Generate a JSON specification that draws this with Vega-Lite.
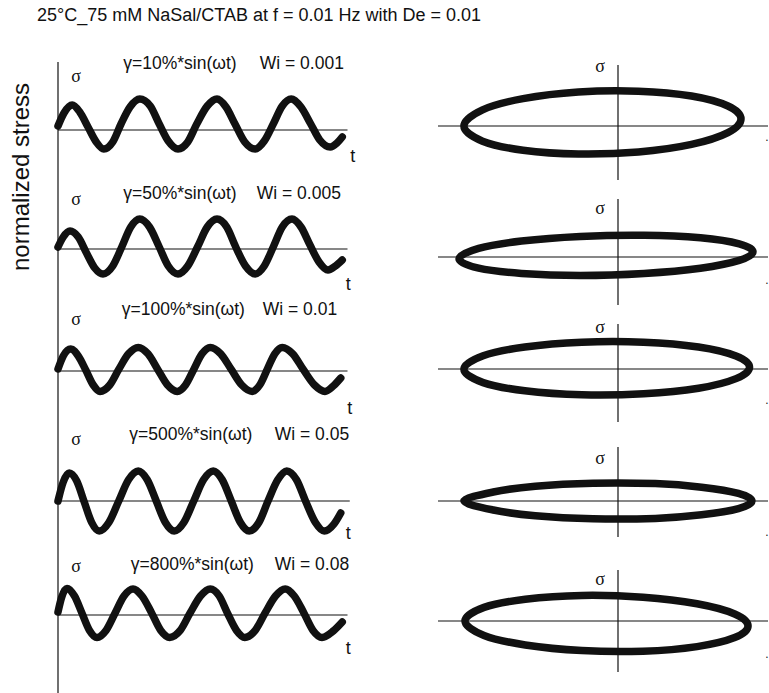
{
  "$schema": "https://vega.github.io/schema/vega-lite/v6.json",
  "padding": {"left": 9, "top": 7, "right": 0, "bottom": 0},
  "background": "white",
  "config": {"view": {"stroke": null}, "font": "Liberation Sans"},
  "title": {"text": "25°C_75 mM NaSal/CTAB at f = 0.01 Hz with De = 0.01", "anchor": "start", "frame": "group", "dx": -21, "offset": 30, "fontSize": 18, "fontWeight": "normal", "font": "Liberation Sans", "color": "#111"},
  "datasets": {
    "waves": [
      {"row": 1, "t": 0, "s": 0.2}, {"row": 1, "t": 8, "s": 0.85}, {"row": 1, "t": 19, "s": 1.25}, {"row": 1, "t": 29, "s": 0.9}, {"row": 1, "t": 40, "s": 0.15}, {"row": 1, "t": 51, "s": -0.6}, {"row": 1, "t": 61, "s": -0.95}, {"row": 1, "t": 73, "s": -0.6}, {"row": 1, "t": 84, "s": 0.3}, {"row": 1, "t": 96, "s": 1.15}, {"row": 1, "t": 109, "s": 1.55}, {"row": 1, "t": 123, "s": 1.2}, {"row": 1, "t": 135, "s": 0.3}, {"row": 1, "t": 147, "s": -0.55}, {"row": 1, "t": 160, "s": -0.95}, {"row": 1, "t": 173, "s": -0.6}, {"row": 1, "t": 185, "s": 0.3}, {"row": 1, "t": 199, "s": 1.2}, {"row": 1, "t": 212, "s": 1.55}, {"row": 1, "t": 224, "s": 1.15}, {"row": 1, "t": 236, "s": 0.3}, {"row": 1, "t": 249, "s": -0.6}, {"row": 1, "t": 263, "s": -0.95}, {"row": 1, "t": 275, "s": -0.55}, {"row": 1, "t": 287, "s": 0.3}, {"row": 1, "t": 299, "s": 1.2}, {"row": 1, "t": 311, "s": 1.55}, {"row": 1, "t": 324, "s": 1.15}, {"row": 1, "t": 337, "s": 0.3}, {"row": 1, "t": 349, "s": -0.5}, {"row": 1, "t": 363, "s": -0.85}, {"row": 1, "t": 372, "s": -0.65}, {"row": 1, "t": 379, "s": -0.35},
      {"row": 2, "t": 0, "s": 0.1}, {"row": 2, "t": 7, "s": 0.6}, {"row": 2, "t": 16, "s": 0.9}, {"row": 2, "t": 27, "s": 0.6}, {"row": 2, "t": 38, "s": -0.2}, {"row": 2, "t": 49, "s": -0.95}, {"row": 2, "t": 60, "s": -1.25}, {"row": 2, "t": 73, "s": -0.85}, {"row": 2, "t": 85, "s": 0.1}, {"row": 2, "t": 97, "s": 1.1}, {"row": 2, "t": 109, "s": 1.5}, {"row": 2, "t": 122, "s": 1.1}, {"row": 2, "t": 135, "s": 0.1}, {"row": 2, "t": 147, "s": -0.85}, {"row": 2, "t": 160, "s": -1.25}, {"row": 2, "t": 173, "s": -0.85}, {"row": 2, "t": 186, "s": 0.1}, {"row": 2, "t": 199, "s": 1.1}, {"row": 2, "t": 212, "s": 1.5}, {"row": 2, "t": 225, "s": 1.1}, {"row": 2, "t": 237, "s": 0.1}, {"row": 2, "t": 250, "s": -0.85}, {"row": 2, "t": 263, "s": -1.25}, {"row": 2, "t": 275, "s": -0.85}, {"row": 2, "t": 287, "s": 0.1}, {"row": 2, "t": 299, "s": 1.1}, {"row": 2, "t": 312, "s": 1.5}, {"row": 2, "t": 324, "s": 1.1}, {"row": 2, "t": 336, "s": 0.2}, {"row": 2, "t": 348, "s": -0.65}, {"row": 2, "t": 360, "s": -1.05}, {"row": 2, "t": 370, "s": -0.85}, {"row": 2, "t": 379, "s": -0.55},
      {"row": 3, "t": 0, "s": 0.1}, {"row": 3, "t": 7, "s": 0.75}, {"row": 3, "t": 17, "s": 1.1}, {"row": 3, "t": 27, "s": 0.75}, {"row": 3, "t": 37, "s": 0.05}, {"row": 3, "t": 47, "s": -0.7}, {"row": 3, "t": 56, "s": -1.02}, {"row": 3, "t": 69, "s": -0.7}, {"row": 3, "t": 81, "s": 0.08}, {"row": 3, "t": 94, "s": 0.86}, {"row": 3, "t": 107, "s": 1.18}, {"row": 3, "t": 120, "s": 0.86}, {"row": 3, "t": 133, "s": 0.08}, {"row": 3, "t": 146, "s": -0.7}, {"row": 3, "t": 159, "s": -1.02}, {"row": 3, "t": 170, "s": -0.7}, {"row": 3, "t": 181, "s": 0.08}, {"row": 3, "t": 192, "s": 0.86}, {"row": 3, "t": 203, "s": 1.18}, {"row": 3, "t": 217, "s": 0.86}, {"row": 3, "t": 231, "s": 0.08}, {"row": 3, "t": 245, "s": -0.7}, {"row": 3, "t": 259, "s": -1.02}, {"row": 3, "t": 269, "s": -0.7}, {"row": 3, "t": 279, "s": 0.08}, {"row": 3, "t": 289, "s": 0.86}, {"row": 3, "t": 299, "s": 1.18}, {"row": 3, "t": 313, "s": 0.86}, {"row": 3, "t": 327, "s": 0.08}, {"row": 3, "t": 342, "s": -0.7}, {"row": 3, "t": 356, "s": -1.02}, {"row": 3, "t": 367, "s": -0.75}, {"row": 3, "t": 377, "s": -0.35},
      {"row": 4, "t": 0, "s": 0}, {"row": 4, "t": 7, "s": 0.95}, {"row": 4, "t": 15, "s": 1.4}, {"row": 4, "t": 25, "s": 1.0}, {"row": 4, "t": 35, "s": -0.05}, {"row": 4, "t": 45, "s": -1.08}, {"row": 4, "t": 55, "s": -1.5}, {"row": 4, "t": 68, "s": -1.06}, {"row": 4, "t": 81, "s": 0}, {"row": 4, "t": 94, "s": 1.06}, {"row": 4, "t": 107, "s": 1.5}, {"row": 4, "t": 119, "s": 1.06}, {"row": 4, "t": 131, "s": 0}, {"row": 4, "t": 143, "s": -1.06}, {"row": 4, "t": 155, "s": -1.5}, {"row": 4, "t": 168, "s": -1.06}, {"row": 4, "t": 181, "s": 0}, {"row": 4, "t": 194, "s": 1.06}, {"row": 4, "t": 207, "s": 1.5}, {"row": 4, "t": 219, "s": 1.06}, {"row": 4, "t": 231, "s": 0}, {"row": 4, "t": 243, "s": -1.06}, {"row": 4, "t": 255, "s": -1.5}, {"row": 4, "t": 268, "s": -1.06}, {"row": 4, "t": 280, "s": 0}, {"row": 4, "t": 293, "s": 1.06}, {"row": 4, "t": 305, "s": 1.5}, {"row": 4, "t": 318, "s": 1.06}, {"row": 4, "t": 330, "s": 0}, {"row": 4, "t": 343, "s": -1.06}, {"row": 4, "t": 355, "s": -1.5}, {"row": 4, "t": 368, "s": -1.15}, {"row": 4, "t": 377, "s": -0.6},
      {"row": 5, "t": 0, "s": 0.15}, {"row": 5, "t": 5, "s": 0.9}, {"row": 5, "t": 12, "s": 1.33}, {"row": 5, "t": 22, "s": 0.95}, {"row": 5, "t": 32, "s": 0.09}, {"row": 5, "t": 42, "s": -0.77}, {"row": 5, "t": 52, "s": -1.12}, {"row": 5, "t": 64, "s": -0.77}, {"row": 5, "t": 76, "s": 0.09}, {"row": 5, "t": 88, "s": 0.95}, {"row": 5, "t": 100, "s": 1.3}, {"row": 5, "t": 112, "s": 0.95}, {"row": 5, "t": 125, "s": 0.09}, {"row": 5, "t": 137, "s": -0.77}, {"row": 5, "t": 149, "s": -1.12}, {"row": 5, "t": 163, "s": -0.77}, {"row": 5, "t": 176, "s": 0.09}, {"row": 5, "t": 190, "s": 0.95}, {"row": 5, "t": 203, "s": 1.3}, {"row": 5, "t": 215, "s": 0.95}, {"row": 5, "t": 226, "s": 0.09}, {"row": 5, "t": 238, "s": -0.77}, {"row": 5, "t": 249, "s": -1.12}, {"row": 5, "t": 263, "s": -0.77}, {"row": 5, "t": 276, "s": 0.09}, {"row": 5, "t": 290, "s": 0.95}, {"row": 5, "t": 303, "s": 1.3}, {"row": 5, "t": 315, "s": 0.95}, {"row": 5, "t": 328, "s": 0.09}, {"row": 5, "t": 340, "s": -0.77}, {"row": 5, "t": 352, "s": -1.12}, {"row": 5, "t": 367, "s": -0.8}, {"row": 5, "t": 379, "s": -0.35}
    ],
    "loops": [
      {"row": 1, "k": 1, "g": 0.82, "s": 0.35}, {"row": 1, "k": 2, "g": 0.733, "s": 1.0}, {"row": 1, "k": 3, "g": 0.49, "s": 1.5}, {"row": 1, "k": 4, "g": 0.136, "s": 1.74}, {"row": 1, "k": 5, "g": -0.264, "s": 1.7}, {"row": 1, "k": 6, "g": -0.633, "s": 1.37}, {"row": 1, "k": 7, "g": -0.903, "s": 0.81}, {"row": 1, "k": 8, "g": -1.027, "s": 0}, {"row": 1, "k": 9, "g": -0.903, "s": -0.76}, {"row": 1, "k": 10, "g": -0.633, "s": -1.21}, {"row": 1, "k": 11, "g": -0.264, "s": -1.4}, {"row": 1, "k": 12, "g": 0.136, "s": -1.3}, {"row": 1, "k": 13, "g": 0.49, "s": -0.92}, {"row": 1, "k": 14, "g": 0.733, "s": -0.33},
      {"row": 2, "k": 1, "g": 0.9, "s": 0.26}, {"row": 2, "k": 2, "g": 0.808, "s": 0.66}, {"row": 2, "k": 3, "g": 0.55, "s": 0.96}, {"row": 2, "k": 4, "g": 0.174, "s": 1.09}, {"row": 2, "k": 5, "g": -0.251, "s": 1.03}, {"row": 2, "k": 6, "g": -0.643, "s": 0.8}, {"row": 2, "k": 7, "g": -0.929, "s": 0.43}, {"row": 2, "k": 8, "g": -1.06, "s": -0.09}, {"row": 2, "k": 9, "g": -0.929, "s": -0.56}, {"row": 2, "k": 10, "g": -0.643, "s": -0.82}, {"row": 2, "k": 11, "g": -0.251, "s": -0.92}, {"row": 2, "k": 12, "g": 0.174, "s": -0.82}, {"row": 2, "k": 13, "g": 0.55, "s": -0.56}, {"row": 2, "k": 14, "g": 0.808, "s": -0.17},
      {"row": 3, "k": 1, "g": 0.877, "s": 0.09}, {"row": 3, "k": 2, "g": 0.787, "s": 0.65}, {"row": 3, "k": 3, "g": 0.537, "s": 1.1}, {"row": 3, "k": 4, "g": 0.171, "s": 1.34}, {"row": 3, "k": 5, "g": -0.241, "s": 1.34}, {"row": 3, "k": 6, "g": -0.621, "s": 1.1}, {"row": 3, "k": 7, "g": -0.899, "s": 0.66}, {"row": 3, "k": 8, "g": -1.027, "s": -0.01}, {"row": 3, "k": 9, "g": -0.899, "s": -0.68}, {"row": 3, "k": 10, "g": -0.621, "s": -1.09}, {"row": 3, "k": 11, "g": -0.241, "s": -1.29}, {"row": 3, "k": 12, "g": 0.171, "s": -1.24}, {"row": 3, "k": 13, "g": 0.537, "s": -0.96}, {"row": 3, "k": 14, "g": 0.787, "s": -0.48},
      {"row": 4, "k": 1, "g": 0.893, "s": 0}, {"row": 4, "k": 2, "g": 0.803, "s": 0.38}, {"row": 4, "k": 3, "g": 0.557, "s": 0.69}, {"row": 4, "k": 4, "g": 0.249, "s": 0.87}, {"row": 4, "k": 5, "g": -0.167, "s": 0.89}, {"row": 4, "k": 6, "g": -0.551, "s": 0.74}, {"row": 4, "k": 7, "g": -0.831, "s": 0.45}, {"row": 4, "k": 8, "g": -1.027, "s": 0}, {"row": 4, "k": 9, "g": -0.831, "s": -0.45}, {"row": 4, "k": 10, "g": -0.551, "s": -0.74}, {"row": 4, "k": 11, "g": -0.167, "s": -0.89}, {"row": 4, "k": 12, "g": 0.249, "s": -0.87}, {"row": 4, "k": 13, "g": 0.557, "s": -0.69}, {"row": 4, "k": 14, "g": 0.803, "s": -0.38},
      {"row": 5, "k": 1, "g": 0.867, "s": -0.25}, {"row": 5, "k": 2, "g": 0.778, "s": 0.35}, {"row": 5, "k": 3, "g": 0.527, "s": 0.86}, {"row": 5, "k": 4, "g": 0.167, "s": 1.19}, {"row": 5, "k": 5, "g": -0.241, "s": 1.28}, {"row": 5, "k": 6, "g": -0.618, "s": 1.09}, {"row": 5, "k": 7, "g": -0.893, "s": 0.68}, {"row": 5, "k": 8, "g": -1.02, "s": 0}, {"row": 5, "k": 9, "g": -0.893, "s": -0.72}, {"row": 5, "k": 10, "g": -0.618, "s": -1.2}, {"row": 5, "k": 11, "g": -0.241, "s": -1.48}, {"row": 5, "k": 12, "g": 0.167, "s": -1.51}, {"row": 5, "k": 13, "g": 0.527, "s": -1.28}, {"row": 5, "k": 14, "g": 0.778, "s": -0.83}
    ]
  },
  "spacing": 79,
  "hconcat": [
    {
      "bounds": "flush",
      "spacing": 0,
      "vconcat": [
        {
          "width": 300, "height": 128,
          "layer": [
            {"data": {"name": "waves"}, "transform": [{"filter": "datum.row == 1"}], "mark": {"type": "line", "interpolate": "monotone", "strokeWidth": 7.5, "color": "#111", "strokeCap": "round"}, "encoding": {"x": {"field": "t", "type": "quantitative", "scale": {"domain": [0, 400], "nice": false, "zero": false}, "axis": null}, "y": {"field": "s", "type": "quantitative", "scale": {"domain": [-3.0, 3.4], "nice": false, "zero": false}, "axis": null}}},
            {"data": {"values": [{}]}, "mark": {"type": "rule", "color": "#111", "strokeWidth": 1.2}, "encoding": {"x": {"datum": 0, "type": "quantitative", "axis": null}}},
            {"data": {"values": [{}]}, "mark": {"type": "rule", "color": "#111", "strokeWidth": 1.2}, "encoding": {"x": {"datum": 0, "type": "quantitative", "axis": null}, "x2": {"datum": 386}, "y": {"datum": 0, "type": "quantitative", "axis": null}}},
            {"data": {"values": [{}]}, "mark": {"type": "text", "text": "σ", "font": "Liberation Serif", "fontSize": 18, "color": "#111"}, "encoding": {"x": {"datum": 24, "type": "quantitative", "axis": null}, "y": {"datum": 2.65, "type": "quantitative", "axis": null}}},
            {"data": {"values": [{}]}, "mark": {"type": "text", "text": "t", "fontSize": 18, "color": "#111"}, "encoding": {"x": {"datum": 393, "type": "quantitative", "axis": null}, "y": {"datum": -1.35, "type": "quantitative", "axis": null}}},
            {"data": {"values": [{}]}, "mark": {"type": "text", "text": "γ=10%*sin(ωt)", "align": "left", "fontSize": 17.5, "color": "#111"}, "encoding": {"x": {"datum": 87, "type": "quantitative", "axis": null}, "y": {"datum": 3.3, "type": "quantitative", "axis": null}}},
            {"data": {"values": [{}]}, "mark": {"type": "text", "text": "Wi = 0.001", "align": "left", "fontSize": 17.5, "color": "#111"}, "encoding": {"x": {"datum": 269, "type": "quantitative", "axis": null}, "y": {"datum": 3.3, "type": "quantitative", "axis": null}}},
            {"data": {"values": [{}]}, "mark": {"type": "text", "text": "normalized stress", "angle": 270, "fontSize": 24, "color": "#111"}, "encoding": {"x": {"datum": -48, "type": "quantitative", "axis": null}, "y": {"datum": -2.35, "type": "quantitative", "axis": null}}}
          ]
        },
        {
          "width": 300, "height": 120,
          "layer": [
            {"data": {"name": "waves"}, "transform": [{"filter": "datum.row == 2"}], "mark": {"type": "line", "interpolate": "monotone", "strokeWidth": 7.5, "color": "#111", "strokeCap": "round"}, "encoding": {"x": {"field": "t", "type": "quantitative", "scale": {"domain": [0, 400], "nice": false, "zero": false}, "axis": null}, "y": {"field": "s", "type": "quantitative", "scale": {"domain": [-3.05, 2.95], "nice": false, "zero": false}, "axis": null}}},
            {"data": {"values": [{}]}, "mark": {"type": "rule", "color": "#111", "strokeWidth": 1.2}, "encoding": {"x": {"datum": 0, "type": "quantitative", "axis": null}}},
            {"data": {"values": [{}]}, "mark": {"type": "rule", "color": "#111", "strokeWidth": 1.2}, "encoding": {"x": {"datum": 0, "type": "quantitative", "axis": null}, "x2": {"datum": 386}, "y": {"datum": 0, "type": "quantitative", "axis": null}}},
            {"data": {"values": [{}]}, "mark": {"type": "text", "text": "σ", "font": "Liberation Serif", "fontSize": 18, "color": "#111"}, "encoding": {"x": {"datum": 24, "type": "quantitative", "axis": null}, "y": {"datum": 2.45, "type": "quantitative", "axis": null}}},
            {"data": {"values": [{}]}, "mark": {"type": "text", "text": "t", "fontSize": 18, "color": "#111"}, "encoding": {"x": {"datum": 387, "type": "quantitative", "axis": null}, "y": {"datum": -1.8, "type": "quantitative", "axis": null}}},
            {"data": {"values": [{}]}, "mark": {"type": "text", "text": "γ=50%*sin(ωt)", "align": "left", "fontSize": 17.5, "color": "#111"}, "encoding": {"x": {"datum": 87, "type": "quantitative", "axis": null}, "y": {"datum": 2.75, "type": "quantitative", "axis": null}}},
            {"data": {"values": [{}]}, "mark": {"type": "text", "text": "Wi = 0.005", "align": "left", "fontSize": 17.5, "color": "#111"}, "encoding": {"x": {"datum": 265, "type": "quantitative", "axis": null}, "y": {"datum": 2.75, "type": "quantitative", "axis": null}}}
          ]
        },
        {
          "width": 300, "height": 126,
          "layer": [
            {"data": {"name": "waves"}, "transform": [{"filter": "datum.row == 3"}], "mark": {"type": "line", "interpolate": "monotone", "strokeWidth": 7.5, "color": "#111", "strokeCap": "round"}, "encoding": {"x": {"field": "t", "type": "quantitative", "scale": {"domain": [0, 400], "nice": false, "zero": false}, "axis": null}, "y": {"field": "s", "type": "quantitative", "scale": {"domain": [-3.25, 3.05], "nice": false, "zero": false}, "axis": null}}},
            {"data": {"values": [{}]}, "mark": {"type": "rule", "color": "#111", "strokeWidth": 1.2}, "encoding": {"x": {"datum": 0, "type": "quantitative", "axis": null}}},
            {"data": {"values": [{}]}, "mark": {"type": "rule", "color": "#111", "strokeWidth": 1.2}, "encoding": {"x": {"datum": 0, "type": "quantitative", "axis": null}, "x2": {"datum": 386}, "y": {"datum": 0, "type": "quantitative", "axis": null}}},
            {"data": {"values": [{}]}, "mark": {"type": "text", "text": "σ", "font": "Liberation Serif", "fontSize": 18, "color": "#111"}, "encoding": {"x": {"datum": 24, "type": "quantitative", "axis": null}, "y": {"datum": 2.55, "type": "quantitative", "axis": null}}},
            {"data": {"values": [{}]}, "mark": {"type": "text", "text": "t", "fontSize": 18, "color": "#111"}, "encoding": {"x": {"datum": 389, "type": "quantitative", "axis": null}, "y": {"datum": -1.9, "type": "quantitative", "axis": null}}},
            {"data": {"values": [{}]}, "mark": {"type": "text", "text": "γ=100%*sin(ωt)", "align": "left", "fontSize": 17.5, "color": "#111"}, "encoding": {"x": {"datum": 85, "type": "quantitative", "axis": null}, "y": {"datum": 3.05, "type": "quantitative", "axis": null}}},
            {"data": {"values": [{}]}, "mark": {"type": "text", "text": "Wi = 0.01", "align": "left", "fontSize": 17.5, "color": "#111"}, "encoding": {"x": {"datum": 273, "type": "quantitative", "axis": null}, "y": {"datum": 3.05, "type": "quantitative", "axis": null}}}
          ]
        },
        {
          "width": 300, "height": 122,
          "layer": [
            {"data": {"name": "waves"}, "transform": [{"filter": "datum.row == 4"}], "mark": {"type": "line", "interpolate": "monotone", "strokeWidth": 7.5, "color": "#111", "strokeCap": "round"}, "encoding": {"x": {"field": "t", "type": "quantitative", "scale": {"domain": [0, 400], "nice": false, "zero": false}, "axis": null}, "y": {"field": "s", "type": "quantitative", "scale": {"domain": [-2.85, 3.25], "nice": false, "zero": false}, "axis": null}}},
            {"data": {"values": [{}]}, "mark": {"type": "rule", "color": "#111", "strokeWidth": 1.2}, "encoding": {"x": {"datum": 0, "type": "quantitative", "axis": null}}},
            {"data": {"values": [{}]}, "mark": {"type": "rule", "color": "#111", "strokeWidth": 1.2}, "encoding": {"x": {"datum": 0, "type": "quantitative", "axis": null}, "x2": {"datum": 389}, "y": {"datum": 0, "type": "quantitative", "axis": null}}},
            {"data": {"values": [{}]}, "mark": {"type": "text", "text": "σ", "font": "Liberation Serif", "fontSize": 18, "color": "#111"}, "encoding": {"x": {"datum": 24, "type": "quantitative", "axis": null}, "y": {"datum": 3.05, "type": "quantitative", "axis": null}}},
            {"data": {"values": [{}]}, "mark": {"type": "text", "text": "t", "fontSize": 18, "color": "#111"}, "encoding": {"x": {"datum": 387, "type": "quantitative", "axis": null}, "y": {"datum": -1.65, "type": "quantitative", "axis": null}}},
            {"data": {"values": [{}]}, "mark": {"type": "text", "text": "γ=500%*sin(ωt)", "align": "left", "fontSize": 17.5, "color": "#111"}, "encoding": {"x": {"datum": 95, "type": "quantitative", "axis": null}, "y": {"datum": 3.3, "type": "quantitative", "axis": null}}},
            {"data": {"values": [{}]}, "mark": {"type": "text", "text": "Wi = 0.05", "align": "left", "fontSize": 17.5, "color": "#111"}, "encoding": {"x": {"datum": 289, "type": "quantitative", "axis": null}, "y": {"datum": 3.3, "type": "quantitative", "axis": null}}}
          ]
        },
        {
          "width": 300, "height": 136,
          "layer": [
            {"data": {"name": "waves"}, "transform": [{"filter": "datum.row == 5"}], "mark": {"type": "line", "interpolate": "monotone", "strokeWidth": 7.5, "color": "#111", "strokeCap": "round"}, "encoding": {"x": {"field": "t", "type": "quantitative", "scale": {"domain": [0, 400], "nice": false, "zero": false}, "axis": null}, "y": {"field": "s", "type": "quantitative", "scale": {"domain": [-3.95, 2.85], "nice": false, "zero": false}, "axis": null}}},
            {"data": {"values": [{}]}, "mark": {"type": "rule", "color": "#111", "strokeWidth": 1.2}, "encoding": {"x": {"datum": 0, "type": "quantitative", "axis": null}}},
            {"data": {"values": [{}]}, "mark": {"type": "rule", "color": "#111", "strokeWidth": 1.2}, "encoding": {"x": {"datum": 0, "type": "quantitative", "axis": null}, "x2": {"datum": 386}, "y": {"datum": 0, "type": "quantitative", "axis": null}}},
            {"data": {"values": [{}]}, "mark": {"type": "text", "text": "σ", "font": "Liberation Serif", "fontSize": 18, "color": "#111"}, "encoding": {"x": {"datum": 24, "type": "quantitative", "axis": null}, "y": {"datum": 2.4, "type": "quantitative", "axis": null}}},
            {"data": {"values": [{}]}, "mark": {"type": "text", "text": "t", "fontSize": 18, "color": "#111"}, "encoding": {"x": {"datum": 387, "type": "quantitative", "axis": null}, "y": {"datum": -1.7, "type": "quantitative", "axis": null}}},
            {"data": {"values": [{}]}, "mark": {"type": "text", "text": "γ=800%*sin(ωt)", "align": "left", "fontSize": 17.5, "color": "#111"}, "encoding": {"x": {"datum": 97, "type": "quantitative", "axis": null}, "y": {"datum": 2.5, "type": "quantitative", "axis": null}}},
            {"data": {"values": [{}]}, "mark": {"type": "text", "text": "Wi = 0.08", "align": "left", "fontSize": 17.5, "color": "#111"}, "encoding": {"x": {"datum": 289, "type": "quantitative", "axis": null}, "y": {"datum": 2.5, "type": "quantitative", "axis": null}}}
          ]
        }
      ]
    },
    {
      "bounds": "flush",
      "spacing": 0,
      "vconcat": [
        {
          "width": 330, "height": 128,
          "layer": [
            {"data": {"values": [{}]}, "mark": {"type": "rule", "color": "#111", "strokeWidth": 1.2}, "encoding": {"y": {"datum": 0, "type": "quantitative", "scale": {"domain": [-3.2, 3.2], "nice": false, "zero": false}, "axis": null}}},
            {"data": {"values": [{}]}, "mark": {"type": "rule", "color": "#111", "strokeWidth": 1.2}, "encoding": {"x": {"datum": 0, "type": "quantitative", "scale": {"domain": [-1.2, 1.0], "nice": false, "zero": false}, "axis": null}, "y": {"datum": 3.05, "type": "quantitative", "axis": null}, "y2": {"datum": -2.7}}},
            {"data": {"name": "loops"}, "transform": [{"filter": "datum.row == 1"}], "mark": {"type": "line", "interpolate": "cardinal-closed", "strokeWidth": 7.5, "color": "#111"}, "encoding": {"x": {"field": "g", "type": "quantitative", "scale": {"domain": [-1.2, 1.0], "nice": false, "zero": false}, "axis": null}, "y": {"field": "s", "type": "quantitative", "scale": {"domain": [-3.2, 3.2], "nice": false, "zero": false}, "axis": null}, "order": {"field": "k", "type": "quantitative"}}},
            {"data": {"values": [{}]}, "mark": {"type": "text", "text": "σ", "font": "Liberation Serif", "fontSize": 18, "color": "#111"}, "encoding": {"x": {"datum": -0.12, "type": "quantitative", "axis": null}, "y": {"datum": 2.95, "type": "quantitative", "axis": null}}},
            {"data": {"values": [{}]}, "mark": {"type": "text", "text": ".", "fontSize": 12, "color": "#111"}, "encoding": {"x": {"datum": 0.993, "type": "quantitative", "axis": null}, "y": {"datum": -0.55, "type": "quantitative", "axis": null}}}
          ]
        },
        {
          "width": 330, "height": 124,
          "layer": [
            {"data": {"values": [{}]}, "mark": {"type": "rule", "color": "#111", "strokeWidth": 1.2}, "encoding": {"y": {"datum": 0, "type": "quantitative", "scale": {"domain": [-2.85, 3.35], "nice": false, "zero": false}, "axis": null}}},
            {"data": {"values": [{}]}, "mark": {"type": "rule", "color": "#111", "strokeWidth": 1.2}, "encoding": {"x": {"datum": 0, "type": "quantitative", "scale": {"domain": [-1.2, 1.0], "nice": false, "zero": false}, "axis": null}, "y": {"datum": 2.9, "type": "quantitative", "axis": null}, "y2": {"datum": -2.4}}},
            {"data": {"name": "loops"}, "transform": [{"filter": "datum.row == 2"}], "mark": {"type": "line", "interpolate": "cardinal-closed", "strokeWidth": 7.5, "color": "#111"}, "encoding": {"x": {"field": "g", "type": "quantitative", "scale": {"domain": [-1.2, 1.0], "nice": false, "zero": false}, "axis": null}, "y": {"field": "s", "type": "quantitative", "scale": {"domain": [-2.85, 3.35], "nice": false, "zero": false}, "axis": null}, "order": {"field": "k", "type": "quantitative"}}},
            {"data": {"values": [{}]}, "mark": {"type": "text", "text": "σ", "font": "Liberation Serif", "fontSize": 18, "color": "#111"}, "encoding": {"x": {"datum": -0.12, "type": "quantitative", "axis": null}, "y": {"datum": 2.4, "type": "quantitative", "axis": null}}},
            {"data": {"values": [{}]}, "mark": {"type": "text", "text": ".", "fontSize": 12, "color": "#111"}, "encoding": {"x": {"datum": 0.993, "type": "quantitative", "axis": null}, "y": {"datum": -1.15, "type": "quantitative", "axis": null}}}
          ]
        },
        {
          "width": 330, "height": 121,
          "layer": [
            {"data": {"values": [{}]}, "mark": {"type": "rule", "color": "#111", "strokeWidth": 1.2}, "encoding": {"y": {"datum": 0, "type": "quantitative", "scale": {"domain": [-3.3, 2.75], "nice": false, "zero": false}, "axis": null}}},
            {"data": {"values": [{}]}, "mark": {"type": "rule", "color": "#111", "strokeWidth": 1.2}, "encoding": {"x": {"datum": 0, "type": "quantitative", "scale": {"domain": [-1.2, 1.0], "nice": false, "zero": false}, "axis": null}, "y": {"datum": 2.25, "type": "quantitative", "axis": null}, "y2": {"datum": -2.65}}},
            {"data": {"name": "loops"}, "transform": [{"filter": "datum.row == 3"}], "mark": {"type": "line", "interpolate": "cardinal-closed", "strokeWidth": 7.5, "color": "#111"}, "encoding": {"x": {"field": "g", "type": "quantitative", "scale": {"domain": [-1.2, 1.0], "nice": false, "zero": false}, "axis": null}, "y": {"field": "s", "type": "quantitative", "scale": {"domain": [-3.3, 2.75], "nice": false, "zero": false}, "axis": null}, "order": {"field": "k", "type": "quantitative"}}},
            {"data": {"values": [{}]}, "mark": {"type": "text", "text": "σ", "font": "Liberation Serif", "fontSize": 18, "color": "#111"}, "encoding": {"x": {"datum": -0.12, "type": "quantitative", "axis": null}, "y": {"datum": 2.05, "type": "quantitative", "axis": null}}},
            {"data": {"values": [{}]}, "mark": {"type": "text", "text": ".", "fontSize": 12, "color": "#111"}, "encoding": {"x": {"datum": 0.993, "type": "quantitative", "axis": null}, "y": {"datum": -1.55, "type": "quantitative", "axis": null}}}
          ]
        },
        {
          "width": 330, "height": 127,
          "layer": [
            {"data": {"values": [{}]}, "mark": {"type": "rule", "color": "#111", "strokeWidth": 1.2}, "encoding": {"y": {"datum": 0, "type": "quantitative", "scale": {"domain": [-3.05, 3.3], "nice": false, "zero": false}, "axis": null}}},
            {"data": {"values": [{}]}, "mark": {"type": "rule", "color": "#111", "strokeWidth": 1.2}, "encoding": {"x": {"datum": 0, "type": "quantitative", "scale": {"domain": [-1.2, 1.0], "nice": false, "zero": false}, "axis": null}, "y": {"datum": 2.7, "type": "quantitative", "axis": null}, "y2": {"datum": -1.8}}},
            {"data": {"name": "loops"}, "transform": [{"filter": "datum.row == 4"}], "mark": {"type": "line", "interpolate": "cardinal-closed", "strokeWidth": 7.5, "color": "#111"}, "encoding": {"x": {"field": "g", "type": "quantitative", "scale": {"domain": [-1.2, 1.0], "nice": false, "zero": false}, "axis": null}, "y": {"field": "s", "type": "quantitative", "scale": {"domain": [-3.05, 3.3], "nice": false, "zero": false}, "axis": null}, "order": {"field": "k", "type": "quantitative"}}},
            {"data": {"values": [{}]}, "mark": {"type": "text", "text": "σ", "font": "Liberation Serif", "fontSize": 18, "color": "#111"}, "encoding": {"x": {"datum": -0.12, "type": "quantitative", "axis": null}, "y": {"datum": 2.1, "type": "quantitative", "axis": null}}},
            {"data": {"values": [{}]}, "mark": {"type": "text", "text": ".", "fontSize": 12, "color": "#111"}, "encoding": {"x": {"datum": 0.993, "type": "quantitative", "axis": null}, "y": {"datum": -1.55, "type": "quantitative", "axis": null}}}
          ]
        },
        {
          "width": 330, "height": 132,
          "layer": [
            {"data": {"values": [{}]}, "mark": {"type": "rule", "color": "#111", "strokeWidth": 1.2}, "encoding": {"y": {"datum": 0, "type": "quantitative", "scale": {"domain": [-3.65, 2.95], "nice": false, "zero": false}, "axis": null}}},
            {"data": {"values": [{}]}, "mark": {"type": "rule", "color": "#111", "strokeWidth": 1.2}, "encoding": {"x": {"datum": 0, "type": "quantitative", "scale": {"domain": [-1.2, 1.0], "nice": false, "zero": false}, "axis": null}, "y": {"datum": 2.55, "type": "quantitative", "axis": null}, "y2": {"datum": -2.55}}},
            {"data": {"name": "loops"}, "transform": [{"filter": "datum.row == 5"}], "mark": {"type": "line", "interpolate": "cardinal-closed", "strokeWidth": 7.5, "color": "#111"}, "encoding": {"x": {"field": "g", "type": "quantitative", "scale": {"domain": [-1.2, 1.0], "nice": false, "zero": false}, "axis": null}, "y": {"field": "s", "type": "quantitative", "scale": {"domain": [-3.65, 2.95], "nice": false, "zero": false}, "axis": null}, "order": {"field": "k", "type": "quantitative"}}},
            {"data": {"values": [{}]}, "mark": {"type": "text", "text": "σ", "font": "Liberation Serif", "fontSize": 18, "color": "#111"}, "encoding": {"x": {"datum": -0.12, "type": "quantitative", "axis": null}, "y": {"datum": 2.05, "type": "quantitative", "axis": null}}},
            {"data": {"values": [{}]}, "mark": {"type": "text", "text": ".", "fontSize": 12, "color": "#111"}, "encoding": {"x": {"datum": 0.993, "type": "quantitative", "axis": null}, "y": {"datum": -1.65, "type": "quantitative", "axis": null}}}
          ]
        }
      ]
    }
  ]
}
